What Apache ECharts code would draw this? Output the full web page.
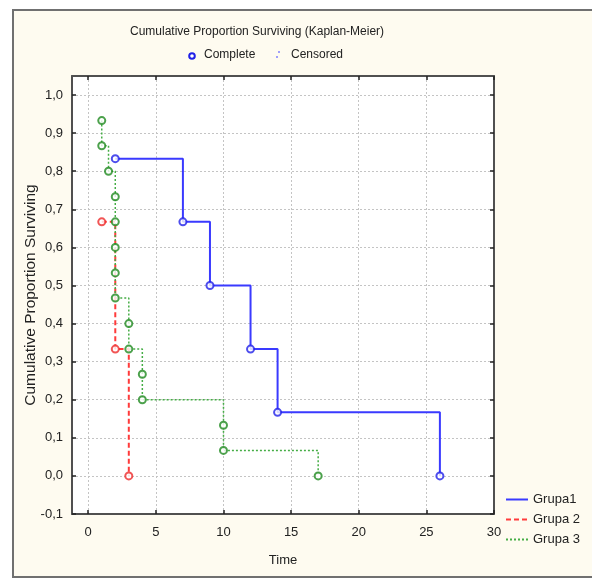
<!DOCTYPE html>
<html><head><meta charset="utf-8">
<script src="https://cdn.jsdelivr.net/npm/echarts@6/dist/echarts.min.js"></script>
<style>html,body{margin:0;padding:0;background:#fff;}#c{width:592px;height:579px;}</style>
</head><body><div id="c"></div>
<script>
// ---- data ----
const xTicks = [0, 5, 10, 15, 20, 25, 30];
const yTicks = [-0.1, 0.0, 0.1, 0.2, 0.3, 0.4, 0.5, 0.6, 0.7, 0.8, 0.9, 1.0];
const seriesNames = ['Grupa1', 'Grupa 2', 'Grupa 3'];
const g1Times = [2, 7, 9, 12, 14, 26];
const g1Surv  = [0.833, 0.667, 0.5, 0.333, 0.167, 0.0];
const g2Times = [1, 2, 3];
const g2Surv  = [0.667, 0.333, 0.0];
const g3Times = [1, 1, 1.5, 2, 2, 2, 2, 2, 3, 3, 4, 4, 10, 10, 17];
const g3Surv  = [0.933, 0.867, 0.8, 0.733, 0.667, 0.6, 0.533, 0.467, 0.4, 0.333, 0.267, 0.2, 0.133, 0.067, 0.0];

// ---- build ----
const FONT = '"Liberation Sans",Arial,sans-serif';
function stepPath(t, s) {
  const p = [[t[0], s[0]]];
  for (let i = 1; i < t.length; i++) { p.push([t[i], s[i - 1]]); p.push([t[i], s[i]]); }
  return p;
}
function pts(t, s) { return t.map((v, i) => [v, s[i]]); }
const groups = [
  {t: g1Times, s: g1Surv, line: '#3a3aff', mark: '#2020e8', type: 'solid', w: 2},
  {t: g2Times, s: g2Surv, line: '#ff3b3b', mark: '#ee2a2a', type: [5, 3], w: 2},
  {t: g3Times, s: g3Surv, line: '#45ad45', mark: '#1f8a1f', type: [2, 2], w: 1.5}
];
const series = [];
groups.forEach((g, i) => {
  series.push({name: seriesNames[i], type: 'line', data: stepPath(g.t, g.s), symbol: 'none', showSymbol: false,
    lineStyle: {color: g.line, width: g.w, type: g.type}, itemStyle: {color: g.line}, z: 2 + i, silent: true, animation: false});
});
groups.forEach((g, i) => {
  series.push({name: 'm' + i, type: 'scatter', data: pts(g.t, g.s), symbol: 'circle', symbolSize: 7,
    itemStyle: {color: '#fff', borderColor: g.mark, borderWidth: 2}, z: 6 + i, animation: false});
});
const fmtY = v => v.toFixed(1).replace('.', ',');
const axisCommonX = {type: 'value', min: -1.2, max: 30};
const axisCommonY = {type: 'value', min: -0.1, max: 1.05};
const lineCol = '#505050';
const chart = echarts.init(document.getElementById('c'), null, {renderer: 'canvas'});
chart.setOption({
  animation: false,
  backgroundColor: '#fff',
  textStyle: {fontFamily: FONT},
  grid: {left: 72, top: 76, width: 422, height: 438, show: true, backgroundColor: '#fff', borderWidth: 0, containLabel: false},
  xAxis: [
    Object.assign({}, axisCommonX, {position: 'bottom', name: 'Time', nameLocation: 'middle', nameGap: 40,
      nameTextStyle: {fontFamily: FONT, fontSize: 13, color: '#222'},
      axisLine: {onZero: false, lineStyle: {color: lineCol, width: 2}},
      axisTick: {inside: true, length: 4, customValues: xTicks, lineStyle: {color: '#222', width: 1.5}},
      axisLabel: {customValues: xTicks, margin: 12, fontFamily: FONT, fontSize: 13, color: '#222'},
      splitLine: {show: true, lineStyle: {color: '#c4c4c4', type: [2, 2], width: 1}}}),
    Object.assign({}, axisCommonX, {position: 'top',
      axisLine: {onZero: false, lineStyle: {color: lineCol, width: 2}},
      axisTick: {inside: true, length: 4, customValues: xTicks, lineStyle: {color: '#222', width: 1.5}},
      axisLabel: {show: false}, splitLine: {show: false}})
  ],
  yAxis: [
    Object.assign({}, axisCommonY, {position: 'left', name: 'Cumulative Proportion Surviving', nameLocation: 'middle', nameGap: 33,
      nameMoveOverlap: false,
      nameTextStyle: {fontFamily: FONT, fontSize: 15.5, color: '#222'},
      axisLine: {onZero: false, lineStyle: {color: lineCol, width: 2}},
      axisTick: {inside: true, length: 4, customValues: yTicks, lineStyle: {color: '#222', width: 1.5}},
      axisLabel: {customValues: yTicks, margin: 9, formatter: fmtY, fontFamily: FONT, fontSize: 13, color: '#222'},
      splitLine: {show: true, lineStyle: {color: '#c4c4c4', type: [2, 2], width: 1}}}),
    Object.assign({}, axisCommonY, {position: 'right',
      axisLine: {onZero: false, lineStyle: {color: lineCol, width: 2}},
      axisTick: {inside: true, length: 4, customValues: yTicks, lineStyle: {color: '#222', width: 1.5}},
      axisLabel: {show: false}, splitLine: {show: false}})
  ],
  legend: {data: seriesNames, orient: 'vertical', left: 500, top: 488, itemWidth: 22, itemHeight: 10, itemGap: 7,
    itemStyle: {opacity: 0},
    textStyle: {fontFamily: FONT, fontSize: 13, color: '#222'}},
  graphic: [
    {type: 'rect', z: -10, silent: true, shape: {x: 13, y: 10, width: 600, height: 567},
      style: {fill: '#fefbf0', stroke: '#707070', lineWidth: 2}},
    {type: 'text', left: 130, top: 26, style: {text: 'Cumulative Proportion Surviving (Kaplan-Meier)', font: '12px ' + FONT, fill: '#222'}},
    {type: 'circle', shape: {cx: 192, cy: 56, r: 2.8}, style: {fill: '#fff', stroke: '#2020e8', lineWidth: 2}},
    {type: 'text', left: 204, top: 49, style: {text: 'Complete', font: '12px ' + FONT, fill: '#222'}},
    {type: 'circle', shape: {cx: 279, cy: 52, r: 1}, style: {fill: '#8080ff'}},
    {type: 'circle', shape: {cx: 277, cy: 57, r: 1}, style: {fill: '#8080ff'}},
    {type: 'text', left: 291, top: 49, style: {text: 'Censored', font: '12px ' + FONT, fill: '#222'}}
  ],
  series: series
});
</script></body></html>
